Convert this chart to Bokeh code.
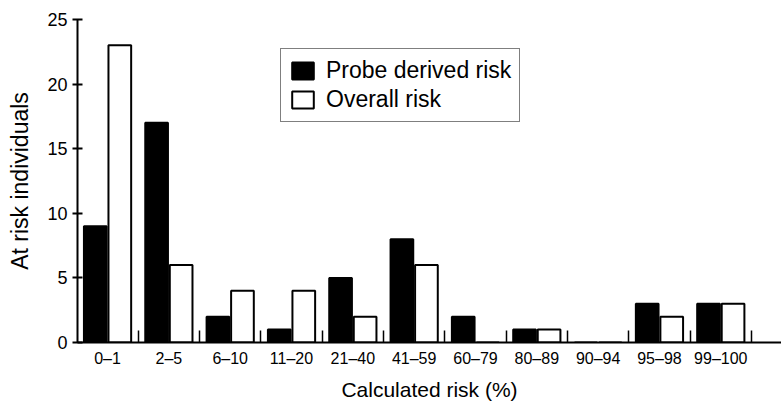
from bokeh.plotting import figure
from bokeh.models import Range1d, FixedTicker, Legend, LegendItem, ColumnDataSource
from bokeh.transform import dodge
from bokeh.embed import file_html
from bokeh.resources import INLINE

# ---- data ----
categories = ["0–1", "2–5", "6–10", "11–20", "21–40", "41–59",
              "60–79", "80–89", "90–94", "95–98", "99–100"]
probe_derived = [9, 17, 2, 1, 5, 8, 2, 1, 0, 3, 3]
overall = [23, 6, 4, 4, 2, 6, 0, 1, 0, 2, 3]
y_ticks = [0, 5, 10, 15, 20, 25]
series_labels = ["Probe derived risk", "Overall risk"]
x_title = "Calculated risk (%)"
y_title = "At risk individuals"

idx = list(range(len(categories)))
source = ColumnDataSource(dict(idx=idx, cat=categories,
                               probe=probe_derived, overall=overall))

FONT = "Liberation Sans"

p = figure(width=781, height=404, output_backend="svg", toolbar_location=None,
           x_range=Range1d(-0.49, 10.99), y_range=Range1d(0, 25),
           min_border_left=77, min_border_right=0,
           min_border_top=19, min_border_bottom=62)
p.outline_line_color = None
p.xgrid.visible = False
p.ygrid.visible = False
p.background_fill_color = "white"
p.border_fill_color = "white"

r1 = p.vbar(x=dodge("idx", -0.2, range=p.x_range), top="probe", width=0.37,
            bottom=0, source=source, fill_color="black",
            line_color="black", line_width=2)
r2 = p.vbar(x=dodge("idx", 0.2, range=p.x_range), top="overall", width=0.37,
            bottom=0, source=source, fill_color="white",
            line_color="black", line_width=2)

# x axis
xa = p.xaxis[0]
xa.ticker = FixedTicker(ticks=idx, minor_ticks=[i + 0.5 for i in idx])
xa.major_label_overrides = {i: c for i, c in zip(idx, categories)}
xa.major_tick_in = 0
xa.major_tick_out = 0
xa.minor_tick_in = 12
xa.minor_tick_out = 0
xa.minor_tick_line_color = "black"
xa.minor_tick_line_width = 1.5
xa.axis_line_color = "black"
xa.axis_line_width = 2
xa.major_label_text_font = FONT
xa.major_label_text_font_size = "16px"
xa.major_label_text_color = "black"
xa.major_label_standoff = 7
xa.axis_label = x_title
xa.axis_label_text_font = FONT
xa.axis_label_text_font_size = "21px"
xa.axis_label_text_font_style = "normal"
xa.axis_label_text_color = "black"
xa.axis_label_standoff = 8

# y axis
ya = p.yaxis[0]
ya.ticker = FixedTicker(ticks=y_ticks)
ya.minor_tick_line_color = None
ya.major_tick_in = 5
ya.major_tick_out = 5
ya.major_tick_line_width = 2
ya.major_tick_line_color = "black"
ya.axis_line_color = "black"
ya.axis_line_width = 2
ya.major_label_text_font = FONT
ya.major_label_text_font_size = "18px"
ya.major_label_text_color = "black"
ya.major_label_standoff = 5
ya.axis_label = y_title
ya.axis_label_text_font = FONT
ya.axis_label_text_font_size = "23px"
ya.axis_label_text_font_style = "normal"
ya.axis_label_text_color = "black"
ya.axis_label_standoff = 11

legend = Legend(items=[LegendItem(label=series_labels[0], renderers=[r1]),
                       LegendItem(label=series_labels[1], renderers=[r2])],
                location=(203, 220), padding=8, spacing=2, margin=0,
                glyph_width=27, glyph_height=21, label_height=20,
                label_standoff=10,
                label_text_font=FONT, label_text_font_size="23px",
                label_text_color="black",
                border_line_color="black", border_line_width=1.5,
                background_fill_color="white", background_fill_alpha=1.0)
p.add_layout(legend)

open("out.html", "w").write(file_html(p, INLINE))
